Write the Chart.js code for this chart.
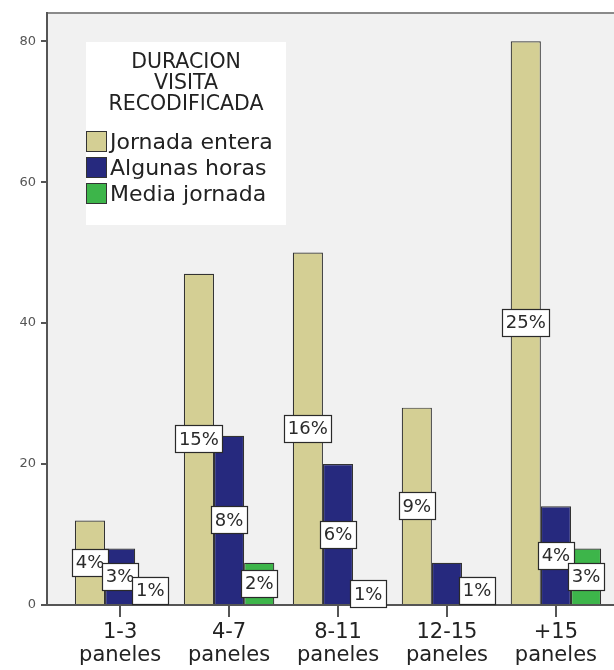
<!DOCTYPE html>
<html><head><meta charset="utf-8">
<script src="https://cdn.jsdelivr.net/npm/chart.js@4"></script>
<style>html,body{margin:0;padding:0;background:#fff;overflow:hidden}#wrap{width:614px;height:670px;position:relative}</style>
</head><body><div id="wrap"><canvas id="c" width="614" height="670"></canvas></div>
<script>
const categories = ["1-3 paneles","4-7 paneles","8-11 paneles","12-15 paneles","+15 paneles"];
const jornadaEntera = [12,47,50,28,80];
const algunasHoras = [8,24,20,6,14];
const mediaJornada = [4,6,3,4,8];
const pctJornadaEntera = ["4%","15%","16%","9%","25%"];
const pctAlgunasHoras = ["3%","8%","6%",null,"4%"];
const pctMediaJornada = ["1%","2%","1%","1%","3%"];
const yTicks = [0,20,40,60,80];
const legendTitle = ["DURACION","VISITA","RECODIFICADA"];
const seriesNames = ["Jornada entera","Algunas horas","Media jornada"];
const seriesColors = ["#d4cf94","#26297e","#3db54a"];

const FONT = "'DejaVu Sans', sans-serif";
const toPoints = arr => arr.map((v,i)=>({x:i,y:v}));

const bgPlugin = {
  id:'bg',
  beforeDraw(chart){
    const {ctx, chartArea:a} = chart;
    ctx.save();
    ctx.fillStyle = '#f1f1f1';
    ctx.fillRect(a.left, a.top, a.right-a.left, a.bottom-a.top);
    ctx.strokeStyle = '#8a8a8a';
    ctx.lineWidth = 2;
    ctx.beginPath(); ctx.moveTo(a.left, a.top); ctx.lineTo(a.right, a.top); ctx.stroke();
    ctx.restore();
  }
};

const labelPlugin = {
  id:'pctLabels',
  afterDatasetsDraw(chart){
    const ctx = chart.ctx;
    ctx.save();
    ctx.font = "18px " + FONT;
    ctx.textAlign = 'center';
    ctx.textBaseline = 'middle';
    chart.data.datasets.forEach((ds, di)=>{
      const meta = chart.getDatasetMeta(di);
      meta.data.forEach((el, i)=>{
        const txt = ds.pctLabels[i];
        if (!txt) return;
        const cx = el.x;
        const cy = (el.y + el.base)/2;
        const w = ctx.measureText(txt).width + 7;
        const h = 27;
        const bx = Math.round(cx - w/2)+0.5, by = Math.round(cy - h/2)+0.5;
        ctx.fillStyle = '#ffffff';
        ctx.fillRect(bx, by, Math.round(w), h);
        ctx.strokeStyle = '#2a2a2a';
        ctx.lineWidth = 1.2;
        ctx.strokeRect(bx, by, Math.round(w), h);
        ctx.fillStyle = '#2a2a2a';
        ctx.fillText(txt, cx, cy+1);
      });
    });
    ctx.restore();
  }
};

const legendPlugin = {
  id:'boxLegend',
  afterDraw(chart){
    const ctx = chart.ctx;
    const x0 = 86, y0 = 42, w = 200, h = 183;
    ctx.save();
    ctx.fillStyle = '#ffffff';
    ctx.fillRect(x0, y0, w, h);
    ctx.fillStyle = '#222222';
    ctx.font = "20.5px " + FONT;
    ctx.textAlign = 'center';
    ctx.textBaseline = 'middle';
    legendTitle.forEach((t, i)=> ctx.fillText(t, x0 + w/2, 63 + i*21));
    ctx.textAlign = 'left';
    ctx.textBaseline = 'alphabetic';
    ctx.font = "22px " + FONT;
    chart.data.datasets.forEach((ds, i)=>{
      const top = 131 + i*26;
      ctx.fillStyle = ds.backgroundColor;
      ctx.fillRect(x0+0.5, top+0.5, 20, 20);
      ctx.strokeStyle = '#333333';
      ctx.lineWidth = 1;
      ctx.strokeRect(x0+0.5, top+0.5, 20, 20);
      ctx.fillStyle = '#222222';
      ctx.fillText(ds.label, x0 + 24, top + 18);
    });
    ctx.restore();
  }
};

const datasets = [jornadaEntera, algunasHoras, mediaJornada].map((vals, i)=>({
  label: seriesNames[i],
  data: toPoints(vals),
  backgroundColor: seriesColors[i],
  borderColor: '#333333',
  borderWidth: 1.2,
  barPercentage: 1,
  categoryPercentage: 0.83,
  pctLabels: [pctJornadaEntera, pctAlgunasHoras, pctMediaJornada][i]
}));

new Chart(document.getElementById('c'), {
  type: 'bar',
  data: { datasets },
  plugins: [bgPlugin, labelPlugin, legendPlugin],
  options: {
    responsive: false,
    devicePixelRatio: 1,
    animation: false,
    layout: { padding: { top: 13, right: 0, left: 0, bottom: 0 } },
    plugins: { legend: { display: false }, tooltip: { enabled: false } },
    scales: {
      x: {
        type: 'linear',
        min: -0.671, max: 4.533,
        offset: false,
        afterBuildTicks: s => { s.ticks = categories.map((_, i) => ({ value: i })); },
        afterFit: s => { s.height = 65; },
        ticks: {
          autoSkip: false, maxRotation: 0, minRotation: 0,
          padding: 4,
          color: '#222222',
          font: { family: FONT, size: 21, lineHeight: 1.1 },
          callback: v => categories[v] ? categories[v].split(' ') : ''
        },
        grid: { offset: false, drawOnChartArea: false, drawTicks: true, tickLength: 12, color: '#555555', lineWidth: 2 },
        border: { display: true, color: '#555555', width: 2 }
      },
      y: {
        min: 0, max: 84,
        afterBuildTicks: s => { s.ticks = yTicks.map(v => ({ value: v })); },
        afterFit: s => { s.width = 47; },
        ticks: { padding: 5, color: '#555555', font: { family: FONT, size: 13 } },
        grid: { drawOnChartArea: false, drawTicks: true, tickLength: 6, color: '#555555', lineWidth: 2 },
        border: { display: true, color: '#555555', width: 2 }
      }
    }
  }
});
</script></body></html>
